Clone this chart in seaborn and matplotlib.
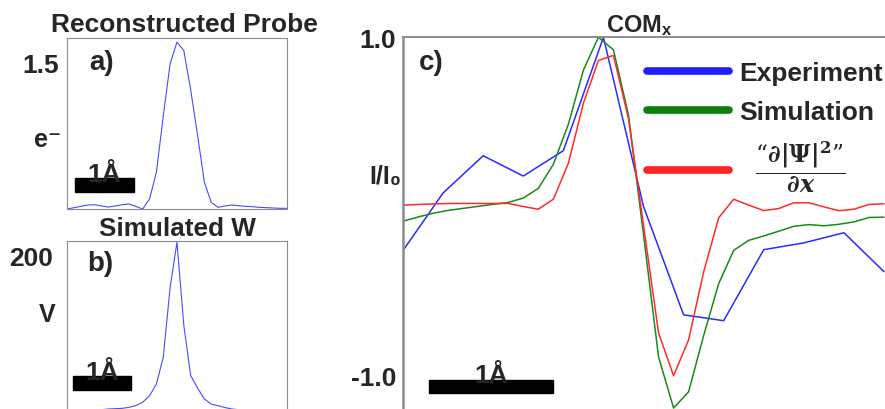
import numpy as np
import pandas as pd
import matplotlib
matplotlib.use("Agg")
import matplotlib.pyplot as plt
import matplotlib.transforms as mtransforms
from matplotlib.lines import Line2D
from matplotlib.patches import Rectangle
import seaborn as sns

# --- values ---
# a) reconstructed probe (e-), 33 samples
probe = [0.0, 0.014, 0.027, 0.041, 0.044, 0.031, 0.020, 0.031, 0.044, 0.051, 0.027,
         0.0, 0.102, 0.376, 0.95, 1.486, 1.708, 1.622, 1.22, 0.76, 0.273, 0.068,
         0.017, 0.031, 0.041, 0.034, 0.027, 0.024, 0.017, 0.014, 0.010, 0.007, 0.007]
# b) simulated W potential (V), 33 samples
potential = [1.0, 1.3, 1.6, 2.0, 2.6, 3.3, 4.2, 4.6, 5.0, 6.3, 8.5, 12.8, 21, 36, 70,
             159, 217, 111, 47, 31, 17, 10.5, 8.4, 6.0, 4.2, 3.3, 2.6, 2.0, 1.6, 1.3,
             1.1, 1.0, 0.9]
# c) COMx, experiment (13 samples) and simulation / d|Psi|^2/dx (33 samples)
com_exp = [-0.26, 0.08, 0.30, 0.18, 0.33, 1.0, 0.0, -0.64, -0.675, -0.255, -0.215,
           -0.155, -0.385]
com_sim = [-0.087, -0.062, -0.040, -0.023, -0.011, 0.001, 0.013, 0.024, 0.050, 0.107,
           0.249, 0.486, 0.806, 1.0, 0.926, 0.54, -0.166, -0.889, -1.191, -1.095,
           -0.763, -0.456, -0.259, -0.200, -0.174, -0.146, -0.117, -0.107, -0.114,
           -0.105, -0.091, -0.065, -0.063]
com_grad = [0.008, 0.012, 0.015, 0.018, 0.018, 0.018, 0.018, 0.018, 0.0, -0.016, 0.043,
            0.255, 0.610, 0.863, 0.893, 0.52, -0.111, -0.747, -1.0, -0.788, -0.387,
            -0.067, 0.043, 0.008, -0.024, -0.012, 0.022, 0.022, -0.002, -0.025,
            -0.016, 0.012, 0.016]

# sample positions in Angstrom
x_ab = np.linspace(0, 3.74, len(probe))
x_sim = np.linspace(0, 3.89, len(com_sim))
x_exp = np.linspace(0, 3.89, len(com_exp))

sns.set_style("white")
plt.rcParams["font.family"] = ["Liberation Sans", "DejaVu Sans"]
plt.rcParams["font.weight"] = "bold"
plt.rcParams["mathtext.fontset"] = "custom"
plt.rcParams["mathtext.rm"] = "Liberation Sans:bold"
plt.rcParams["mathtext.bf"] = "Liberation Sans:bold"
plt.rcParams["mathtext.it"] = "Liberation Sans:bold:italic"

fig = plt.figure(figsize=(8.85, 4.10), dpi=100)
ax_a = fig.add_axes([0.0760, 0.4878, 0.2479, 0.4171])
ax_b = fig.add_axes([0.0760, -0.008, 0.2479, 0.4185])
ax_c = fig.add_axes([0.4554, -0.022, 0.5559, 0.9286])

grey = "#8c8c8c"
TICK_FS = 19
LAB_FS = 18


def scale_bar(ax, x0, y0, h):
    trans = mtransforms.blended_transform_factory(ax.transData, ax.transAxes)
    ax.add_patch(Rectangle((x0, y0), 1.0, h, transform=trans, color="black",
                           clip_on=False, zorder=5))
    ax.text(x0 + 0.5, y0 + h * 0.45, "1Å", transform=trans, ha="center", va="bottom",
            fontsize=19, fontweight="bold", zorder=6)


# --- a) Reconstructed probe ---
sns.lineplot(x=x_ab, y=probe, ax=ax_a, color="#4a4aff", lw=0.8)
ax_a.set_xlim(x_ab[0], x_ab[-1])
ax_a.set_ylim(0, 1.75)
ax_a.set_yticks([0.5, 1.0, 1.5])
ax_a.set_yticklabels(["", "", "1.5"])
ax_a.set_title("Reconstructed Probe", fontsize=19, fontweight="bold", pad=5, x=0.536)
ax_a.set_ylabel("e⁻", fontsize=LAB_FS, fontweight="bold", rotation=0, va="center")
ax_a.yaxis.set_label_coords(-0.09, 0.41)
ax_a.text(0.10, 0.86, "a)", transform=ax_a.transAxes, fontsize=20, fontweight="bold",
          va="center")
scale_bar(ax_a, 0.13, 0.10, 0.08)

# --- b) Simulated W ---
sns.lineplot(x=x_ab, y=potential, ax=ax_b, color="#4a4aff", lw=0.8)
ax_b.set_xlim(x_ab[0], x_ab[-1])
ax_b.set_ylim(0, 219)
ax_b.set_yticks([100, 200])
ax_b.set_yticklabels(["", "200"])
ax_b.set_title("Simulated W", fontsize=18.8, fontweight="bold", pad=4)
ax_b.set_ylabel("V", fontsize=LAB_FS, fontweight="bold", rotation=0, va="center")
ax_b.yaxis.set_label_coords(-0.09, 0.57)
ax_b.text(0.09, 0.87, "b)", transform=ax_b.transAxes, fontsize=20, fontweight="bold",
          va="center")
scale_bar(ax_b, 0.09, 0.13, 0.08)

for ax in (ax_a, ax_b):
    ax.set_xticks([])
    ax.tick_params(axis="y", direction="out", length=4, width=0.8, color=grey,
                   labelsize=TICK_FS, pad=2)
    for s in ax.spines.values():
        s.set_color(grey)
        s.set_linewidth(0.8)
ax_b.tick_params(axis="y", pad=6)
ax_b.spines["bottom"].set_visible(False)

# --- c) COMx ---
df_c = pd.concat([
    pd.DataFrame({"x": x_exp, "v": com_exp, "series": "Experiment"}),
    pd.DataFrame({"x": x_sim, "v": com_sim, "series": "Simulation"}),
    pd.DataFrame({"x": x_sim, "v": com_grad, "series": "Gradient"}),
])
palette = {"Experiment": "#2b2bff", "Simulation": "#1a8a1a", "Gradient": "#ff2b2b"}
sns.lineplot(data=df_c, x="x", y="v", hue="series", palette=palette, estimator=None,
             sort=False, lw=1.1, legend=False, ax=ax_c)
ax_c.set_xlim(0, 3.89 * 492 / 481)
ax_c.set_ylim(-1.25, 1.0)
ax_c.set_yticks([-1.0, 0.0, 1.0])
ax_c.set_yticklabels(["-1.0", "", "1.0"])
ax_c.set_xticks([])
ax_c.set_xlabel("")
ax_c.set_ylabel("I/I₀", fontsize=LAB_FS, fontweight="bold", rotation=0, va="center")
ax_c.yaxis.set_label_coords(-0.035, 0.635)
ax_c.tick_params(axis="y", direction="in", length=11, width=1.0, color="#333333",
                 labelsize=TICK_FS, pad=5)
for s in ax_c.spines.values():
    s.set_color(grey)
ax_c.spines["left"].set_linewidth(1.8)
ax_c.spines["top"].set_linewidth(1.4)
ax_c.set_title("COM$_\\mathregular{x}$", fontsize=17, fontweight="bold", pad=4,
               x=0.48)
ax_c.text(0.033, 0.935, "c)", transform=ax_c.transAxes, fontsize=20,
          fontweight="bold", va="center")
scale_bar(ax_c, 0.21, 0.065, 0.035)

handles = [Line2D([], [], color="#1f1fff", lw=5.5),
           Line2D([], [], color="#0b800b", lw=5.5),
           Line2D([], [], color="#ff2222", lw=5.5)]
labels = ["Experiment", "Simulation",
          r"$\ \ \dfrac{“\partial|\Psi|^2”}{\partial x}$"]
leg = ax_c.legend(handles, labels, loc="upper left", bbox_to_anchor=(0.496, 0.937),
                  frameon=False, handlelength=3.1, handletextpad=0.4,
                  labelspacing=0.56, borderaxespad=0, borderpad=0,
                  prop={"weight": "bold", "size": 19})
leg.get_texts()[2].set_math_fontfamily("dejavuserif")
leg.get_texts()[2].set_fontsize(17)

fig.savefig("out.png", dpi=100)
